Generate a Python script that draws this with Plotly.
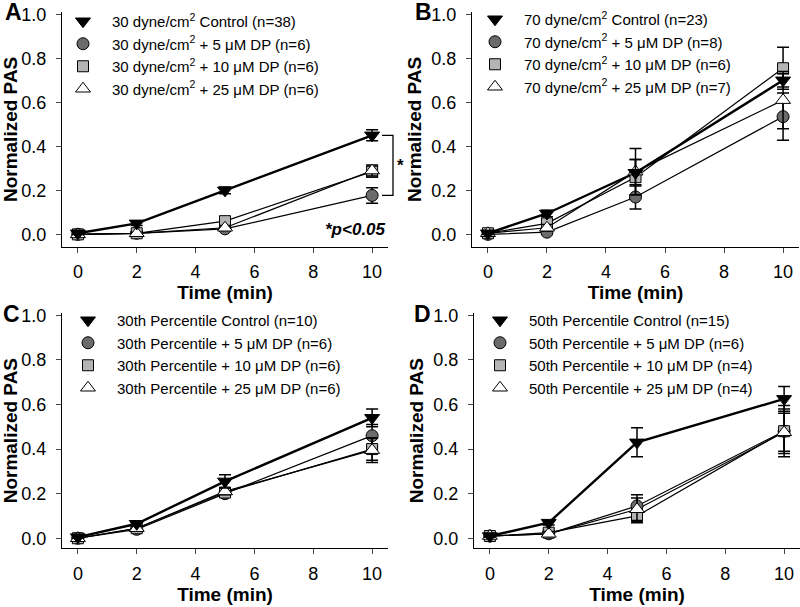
import plotly.graph_objects as go

# ---------------- data ----------------
times = [0, 2, 5, 10]

A_ctrl = [0.005, 0.05, 0.20, 0.45]
A_ctrl_err = [0.005, 0.01, 0.015, 0.025]
A_dp5 = [0.0, 0.005, 0.025, 0.177]
A_dp5_err = [0.005, 0.005, 0.01, 0.035]
A_dp10 = [0.0, 0.005, 0.06, 0.285]
A_dp10_err = [0.005, 0.005, 0.01, 0.025]
A_dp25 = [0.0, 0.005, 0.03, 0.29]
A_dp25_err = [0.005, 0.005, 0.01, 0.025]
A_labels = ["30 dyne/cm<sup>2</sup> Control (n=38)",
            "30 dyne/cm<sup>2</sup> + 5 μM DP (n=6)",
            "30 dyne/cm<sup>2</sup> + 10 μM DP (n=6)",
            "30 dyne/cm<sup>2</sup> + 25 μM DP (n=6)"]

B_ctrl = [0.005, 0.095, 0.28, 0.70]
B_ctrl_err = [0.005, 0.015, 0.06, 0.03]
B_dp5 = [0.0, 0.01, 0.17, 0.535]
B_dp5_err = [0.005, 0.01, 0.055, 0.107]
B_dp10 = [0.005, 0.05, 0.26, 0.755]
B_dp10_err = [0.005, 0.02, 0.08, 0.095]
B_dp25 = [0.005, 0.03, 0.285, 0.61]
B_dp25_err = [0.005, 0.015, 0.105, 0.13]
B_labels = ["70 dyne/cm<sup>2</sup> Control (n=23)",
            "70 dyne/cm<sup>2</sup> + 5 μM DP (n=8)",
            "70 dyne/cm<sup>2</sup> + 10 μM DP (n=6)",
            "70 dyne/cm<sup>2</sup> + 25 μM DP (n=7)"]

C_ctrl = [0.005, 0.065, 0.255, 0.54]
C_ctrl_err = [0.005, 0.01, 0.03, 0.04]
C_dp5 = [0.0, 0.04, 0.20, 0.46]
C_dp5_err = [0.005, 0.01, 0.015, 0.05]
C_dp10 = [0.0, 0.045, 0.205, 0.40]
C_dp10_err = [0.005, 0.01, 0.015, 0.05]
C_dp25 = [0.0, 0.045, 0.21, 0.395]
C_dp25_err = [0.005, 0.01, 0.015, 0.055]
C_labels = ["30th Percentile Control (n=10)",
            "30th Percentile + 5 μM DP (n=6)",
            "30th Percentile + 10 μM DP (n=6)",
            "30th Percentile + 25 μM DP (n=6)"]

D_ctrl = [0.01, 0.07, 0.43, 0.625]
D_ctrl_err = [0.005, 0.01, 0.065, 0.055]
D_dp5 = [0.01, 0.02, 0.145, 0.48]
D_dp5_err = [0.005, 0.01, 0.05, 0.10]
D_dp10 = [0.01, 0.025, 0.10, 0.48]
D_dp10_err = [0.005, 0.01, 0.03, 0.115]
D_dp25 = [0.01, 0.02, 0.13, 0.475]
D_dp25_err = [0.005, 0.01, 0.05, 0.085]
D_labels = ["50th Percentile Control (n=15)",
            "50th Percentile + 5 μM DP (n=6)",
            "50th Percentile + 10 μM DP (n=4)",
            "50th Percentile + 25 μM DP (n=4)"]

panel_letters = ["A", "B", "C", "D"]
x_ticks = [0, 2, 4, 6, 8, 10]
y_ticks = [0.0, 0.2, 0.4, 0.6, 0.8, 1.0]

# ---------------- styling ----------------
FONT = "Arial, Liberation Sans, sans-serif"
W, H = 800, 607

styles = [  # control, 5, 10, 25
    dict(symbol="triangle-down", fill="black", lw=2.4, size=13),
    dict(symbol="circle", fill="#6b6b6b", lw=1.2, size=12),
    dict(symbol="square", fill="#b4b4b4", lw=1.2, size=11),
    dict(symbol="triangle-up", fill="white", lw=1.2, size=13),
]
draw_order = [1, 2, 3, 0]

panels = [
    dict(series=[A_ctrl, A_dp5, A_dp10, A_dp25],
         errs=[A_ctrl_err, A_dp5_err, A_dp10_err, A_dp25_err], labels=A_labels,
         xpx=(62, 388), ypx=(12.1, 246.7), yr=(-0.056, 1.01), leg=(54, 5), letter=(13, 12)),
    dict(series=[B_ctrl, B_dp5, B_dp10, B_dp25],
         errs=[B_ctrl_err, B_dp5_err, B_dp10_err, B_dp25_err], labels=B_labels,
         xpx=(472, 799), ypx=(12.1, 246.7), yr=(-0.056, 1.01), leg=(466, 3), letter=(423, 12)),
    dict(series=[C_ctrl, C_dp5, C_dp10, C_dp25],
         errs=[C_ctrl_err, C_dp5_err, C_dp10_err, C_dp25_err], labels=C_labels,
         xpx=(62, 388), ypx=(313, 548.3), yr=(-0.045, 1.01), leg=(59, 304), letter=(11, 314)),
    dict(series=[D_ctrl, D_dp5, D_dp10, D_dp25],
         errs=[D_ctrl_err, D_dp5_err, D_dp10_err, D_dp25_err], labels=D_labels,
         xpx=(474, 800), ypx=(313, 548.3), yr=(-0.045, 1.01), leg=(471, 304), letter=(422, 314)),
]

fig = go.Figure()
layout = dict(width=W, height=H, margin=dict(l=0, r=0, t=0, b=0, autoexpand=False),
              paper_bgcolor="white", plot_bgcolor="white",
              font=dict(family=FONT, color="black"), showlegend=True)
annotations = []
shapes = []

for p_i, p in enumerate(panels):
    sfx = "" if p_i == 0 else str(p_i + 1)
    xa, ya = "x" + sfx, "y" + sfx
    leg = "legend" + sfx
    # lines first
    for k in draw_order:
        st = styles[k]
        fig.add_trace(go.Scatter(x=times, y=p["series"][k], mode="lines",
                                 line=dict(color="black", width=st["lw"]),
                                 xaxis=xa, yaxis=ya, showlegend=False, hoverinfo="skip"))
    for k in draw_order:
        st = styles[k]
        fig.add_trace(go.Scatter(
            x=times, y=p["series"][k], mode="markers", name=p["labels"][k],
            marker=dict(symbol=st["symbol"], size=st["size"], color=st["fill"],
                        line=dict(color="black", width=1)),
            error_y=dict(type="data", array=p["errs"][k], color="black",
                         thickness=1.5, width=6),
            xaxis=xa, yaxis=ya, legend=leg, legendrank=k + 1))
    x0, x1 = p["xpx"]
    yt, yb = p["ypx"]
    layout["xaxis" + sfx] = dict(
        domain=[x0 / W, x1 / W], anchor=ya, range=[-0.54, 10.54], automargin=False,
        tickvals=x_ticks, ticks="outside", ticklen=5, tickwidth=1.3,
        showline=True, linecolor="black", linewidth=1.3, showgrid=False, zeroline=False,
        tickfont=dict(size=18), ticklabelstandoff=4,
        title=dict(text="<b>Time (min)</b>", font=dict(size=19), standoff=0))
    layout["yaxis" + sfx] = dict(
        domain=[1 - yb / H, 1 - yt / H], anchor=xa, range=list(p["yr"]), automargin=False,
        tickvals=y_ticks, tickformat=".1f", ticks="outside", ticklen=5, tickwidth=1.3,
        showline=True, linecolor="black", linewidth=1.3, showgrid=False, zeroline=False,
        tickfont=dict(size=18), ticklabelstandoff=6,
        title=dict(text="<b>Normalized PAS</b>", font=dict(size=19), standoff=4))
    lx, ly = p["leg"]
    layout[leg] = dict(x=lx / W, y=1 - ly / H, xanchor="left", yanchor="top",
                       xref="paper", yref="paper", bgcolor="rgba(0,0,0,0)",
                       font=dict(size=15, family=FONT), itemwidth=48,
                       traceorder="normal", tracegroupgap=0)
    annotations.append(dict(text="<b>%s</b>" % panel_letters[p_i], x=p["letter"][0] / W,
                            y=1 - p["letter"][1] / H, xref="paper", yref="paper",
                            showarrow=False, font=dict(size=23, family=FONT),
                            xanchor="center", yanchor="middle"))

# significance marker for panel A
annotations.append(dict(text="<b><i>*p&lt;0.05</i></b>", x=1.0, xref="x domain", y=0.02, yref="y",
                        xanchor="right", yanchor="middle", showarrow=False,
                        font=dict(size=17, family=FONT)))
bx0, bx1 = 382 / W, 393 / W
shapes.append(dict(type="path", xref="paper", yref="y",
                   path="M %f,%f L %f,%f L %f,%f L %f,%f" % (
                       bx0, A_ctrl[-1], bx1, A_ctrl[-1], bx1, A_dp5[-1], bx0, A_dp5[-1]),
                   line=dict(color="black", width=1.3)))
annotations.append(dict(text="<b>*</b>", x=400 / W, xref="paper",
                        y=(A_ctrl[-1] + A_dp5[-1]) / 2, yref="y",
                        showarrow=False, font=dict(size=17, family=FONT)))

layout["annotations"] = annotations
layout["shapes"] = shapes
fig.update_layout(**layout)
fig.write_html("out.html", config={"displayModeBar": False},
               post_script="document.body.style.margin='0';document.body.style.overflow='hidden';")
